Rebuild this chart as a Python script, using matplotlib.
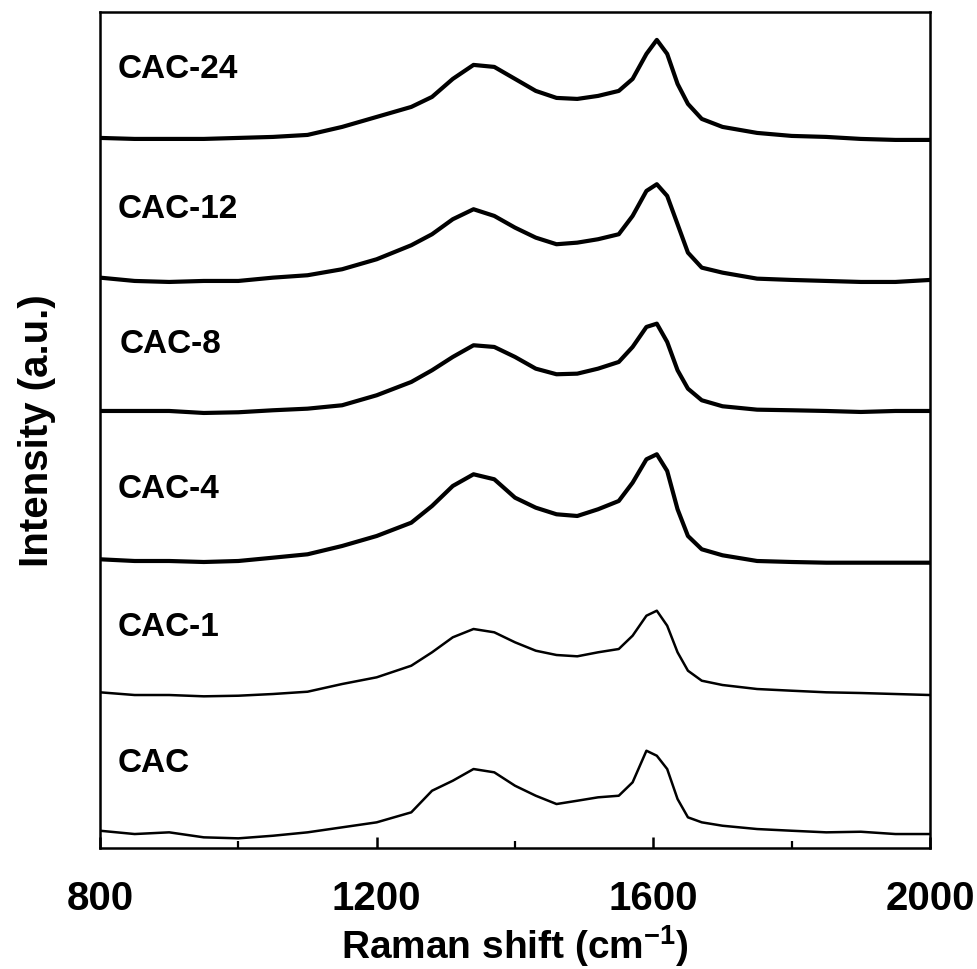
import matplotlib
matplotlib.use("Agg")
import matplotlib.pyplot as plt

# Raman shift positions (cm-1)
shift = [800, 850, 900, 950, 1000, 1050, 1100, 1150, 1200, 1250, 1280, 1310,
         1340, 1370, 1400, 1430, 1460, 1490, 1520, 1550, 1570, 1590, 1605,
         1620, 1635, 1650, 1670, 1700, 1750, 1800, 1850, 1900, 1950, 2000]

# intensities above each baseline (a.u.)
cac24 = [0, -1, -1, -1, 0, 1, 3, 11, 21, 31, 41, 59, 73, 71, 59, 47, 40, 39,
         42, 47, 59, 84, 98, 84, 54, 34, 19, 11, 5, 2, 1, -1, -2, -2]
cac12 = [3.3, 0, -1, 0, 0, 3.3, 5.7, 11.7, 21.7, 35.7, 46.7, 61.7, 71.7, 65,
         53.3, 43.3, 36.7, 38.3, 41.7, 46.7, 65, 90, 96.7, 85, 56.7, 28.3,
         13.3, 8.3, 2.3, 1, 0, -1, -1, 1]
cac8 = [1, 1, 1, -1, -0.3, 1.7, 3.3, 6.7, 16.7, 30, 41.7, 55, 66.7, 65, 55,
        43.3, 37.7, 38.3, 43.3, 50, 65, 85, 88.3, 70, 41.7, 23.3, 11.7, 5.7,
        2.3, 1.7, 1, 0, 1, 1]
cac4 = [1.7, 0, 0, -1, 0, 3.3, 6.7, 15, 25, 38.3, 55, 75, 86.7, 81.7, 63.3,
        53.3, 46.7, 45, 51.7, 60, 78.3, 101.7, 106.7, 90, 51.7, 25, 11.7, 5.7,
        0, -1, -1.7, -1.7, -1.7, -1.7]
cac1 = [1.7, -1, -1, -2.3, -1.7, 0, 2.3, 10, 16.7, 28.3, 41.7, 56.7, 65, 61.7,
        51.7, 43.3, 39, 37.7, 41.7, 45, 58.3, 78.3, 83.3, 68.3, 41.7, 23.3,
        13.3, 9, 5, 3.3, 1.7, 1, 0, -1]
cac = [3.3, 0, 1.7, -3.3, -4.3, -1.7, 1.7, 6.7, 11.7, 21.7, 43.3, 53.3, 65,
       61.7, 48.3, 38.3, 30, 33.3, 36.7, 38.3, 51.7, 83.3, 78.3, 65, 35, 16.7,
       11.7, 8.3, 5, 3.3, 1.7, 2.3, 0, 0]

names = ["CAC-24", "CAC-12", "CAC-8", "CAC-4", "CAC-1", "CAC"]
spectra = [cac24, cac12, cac8, cac4, cac1, cac]
offsets = [710, 567, 436, 287, 154, 14]
label_y = [779, 639, 504, 359, 222, 86]
label_x = [825, 825, 829, 825, 826, 826]

plt.rcParams["font.family"] = ["Liberation Sans", "DejaVu Sans"]
plt.rcParams["font.weight"] = "bold"
plt.rcParams["mathtext.fontset"] = "custom"
plt.rcParams["mathtext.rm"] = "Liberation Sans:bold"
plt.rcParams["mathtext.bf"] = "Liberation Sans:bold"

fig = plt.figure(figsize=(9.77, 9.70), dpi=100)
ax = fig.add_axes([0.1024, 0.1247, 0.8495, 0.862])

for i, (name, y) in enumerate(zip(names, spectra)):
    lw = 3.0 if i < 4 else 1.8
    ax.plot(shift, [v + offsets[i] for v in y], color="black", lw=lw)
    ax.text(label_x[i], label_y[i], name, fontsize=24, fontweight="bold",
            ha="left", va="center")

ax.set_xlim(800, 2000)
ax.set_ylim(0, 836)
ax.set_xticks([800, 1200, 1600, 2000])
ax.set_xticks([1000, 1400, 1800], minor=True)
ax.set_yticks([])
ax.tick_params(axis="x", which="major", direction="in", length=8, width=1.8,
               pad=22, labelsize=29)
ax.tick_params(axis="x", which="minor", direction="in", length=5, width=1.6)
for sp in ax.spines.values():
    sp.set_linewidth(1.8)

ax.set_xlabel(r"Raman shift (cm$^{\mathbf{-1}}$)", fontsize=28,
              fontweight="bold", labelpad=4)
ax.set_ylabel("Intensity (a.u.)", fontsize=29, fontweight="bold", labelpad=32)

fig.savefig("out.png", dpi=100)
